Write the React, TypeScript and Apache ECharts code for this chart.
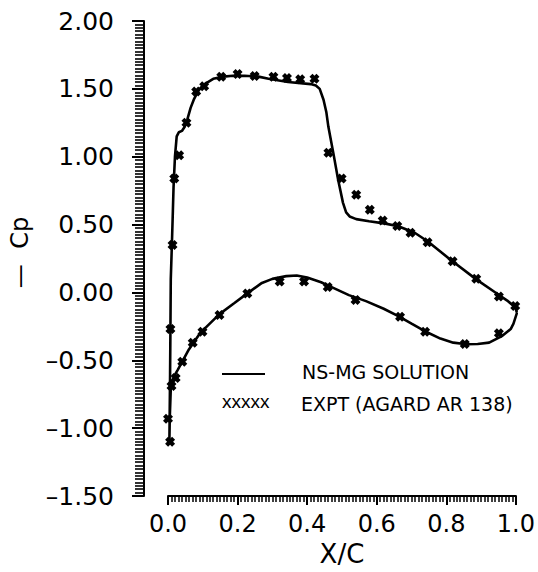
import React, { useEffect, useRef } from "react";
import * as echarts from "echarts";

// NS-MG solution, upper surface (leading edge -> trailing edge)
const solUpperX = [0.004, 0.006, 0.007, 0.008, 0.011, 0.014, 0.016, 0.020, 0.025, 0.031, 0.040, 0.048, 0.055, 0.065, 0.074, 0.088, 0.102, 0.130, 0.160, 0.186, 0.220, 0.260, 0.289, 0.345, 0.410, 0.425, 0.436, 0.447, 0.455, 0.461, 0.475, 0.489, 0.503, 0.512, 0.522, 0.541, 0.578, 0.625, 0.662, 0.709, 0.746, 0.811, 0.886, 0.942, 0.975, 0.998, 1.003];
const solUpperCp = [-1.10, -0.60, -0.27, 0.10, 0.34, 0.60, 0.78, 1.00, 1.15, 1.18, 1.19, 1.22, 1.27, 1.36, 1.42, 1.49, 1.53, 1.574, 1.59, 1.596, 1.597, 1.59, 1.575, 1.55, 1.535, 1.525, 1.50, 1.42, 1.33, 1.22, 1.03, 0.83, 0.66, 0.59, 0.56, 0.54, 0.525, 0.507, 0.488, 0.44, 0.377, 0.243, 0.096, -0.002, -0.06, -0.11, -0.15];

// NS-MG solution, lower surface (leading edge -> trailing edge)
const solLowerX = [0.004, 0.005, 0.008, 0.012, 0.018, 0.028, 0.041, 0.060, 0.092, 0.120, 0.148, 0.190, 0.228, 0.270, 0.300, 0.340, 0.370, 0.400, 0.440, 0.475, 0.520, 0.569, 0.620, 0.662, 0.700, 0.737, 0.783, 0.820, 0.858, 0.890, 0.923, 0.961, 0.985, 0.993, 1.003];
const solLowerCp = [-1.105, -0.93, -0.71, -0.66, -0.615, -0.57, -0.51, -0.42, -0.30, -0.23, -0.16, -0.08, -0.007, 0.07, 0.10, 0.12, 0.125, 0.11, 0.075, 0.034, -0.02, -0.064, -0.12, -0.174, -0.23, -0.284, -0.34, -0.37, -0.382, -0.38, -0.37, -0.32, -0.27, -0.23, -0.15];

// Experiment (AGARD AR 138), upper surface
const expUpperX = [0.007, 0.013, 0.018, 0.032, 0.053, 0.081, 0.104, 0.153, 0.200, 0.249, 0.303, 0.342, 0.380, 0.421, 0.461, 0.499, 0.541, 0.580, 0.617, 0.659, 0.697, 0.746, 0.818, 0.886, 0.951, 0.998];
const expUpperCp = [-0.27, 0.35, 0.84, 1.01, 1.25, 1.48, 1.52, 1.59, 1.61, 1.595, 1.59, 1.58, 1.57, 1.575, 1.03, 0.84, 0.72, 0.61, 0.53, 0.49, 0.44, 0.37, 0.23, 0.10, -0.03, -0.10];

// Experiment (AGARD AR 138), lower surface
const expLowerX = [0.000, 0.006, 0.010, 0.022, 0.041, 0.071, 0.099, 0.148, 0.228, 0.321, 0.391, 0.459, 0.539, 0.667, 0.739, 0.853, 0.951];
const expLowerCp = [-0.93, -1.10, -0.69, -0.63, -0.51, -0.37, -0.29, -0.167, -0.007, 0.08, 0.08, 0.04, -0.056, -0.18, -0.29, -0.38, -0.30];

const xTicks = [0, 0.2, 0.4, 0.6, 0.8, 1.0];
const yTicks = [-1.5, -1.0, -0.5, 0, 0.5, 1.0, 1.5, 2.0];

const legendLabels = ["NS-MG SOLUTION", "EXPT (AGARD AR 138)"];

const FONT = "DejaVu Sans";
const X_MARK = "path://M0,3L3,0L5,2L7,0L10,3L8,5L10,7L7,10L5,8L3,10L0,7L2,5Z";

function fmtY(v: number) {
  const s = Math.abs(v).toFixed(2);
  return v < 0 ? "\u2013" + s : s;
}

export default function App() {
  const ref = useRef<HTMLDivElement>(null);
  useEffect(() => {
    if (!ref.current) return;
    const chart = echarts.init(ref.current, undefined, { renderer: "svg" });

    const loop: number[][] = [];
    for (let i = solUpperX.length - 1; i >= 0; i--) loop.push([solUpperX[i], solUpperCp[i]]);
    for (let i = 0; i < solLowerX.length; i++) loop.push([solLowerX[i], solLowerCp[i]]);

    const expt: number[][] = [];
    expUpperX.forEach((x, i) => expt.push([x, expUpperCp[i]]));
    expLowerX.forEach((x, i) => expt.push([x, expLowerCp[i]]));

    chart.setOption({
      animation: false,
      backgroundColor: "#fff",
      grid: { left: 167, right: 14, top: 21, bottom: 75 },
      xAxis: {
        type: "value",
        min: xTicks[0],
        max: xTicks[xTicks.length - 1],
        interval: 0.2,
        name: "X/C",
        nameLocation: "middle",
        nameGap: 45,
        nameTextStyle: { fontFamily: FONT, fontSize: 26, color: "#000" },
        axisLine: { onZero: false, lineStyle: { color: "#000", width: 2 } },
        axisTick: { length: 9, lineStyle: { color: "#000", width: 2 } },
        minorTick: { show: true, splitNumber: 20, length: 6, lineStyle: { color: "#000", width: 1.5 } },
        axisLabel: { margin: 16, fontFamily: FONT, fontSize: 24, color: "#000", formatter: (v: number) => v.toFixed(1) },
        splitLine: { show: false },
      },
      yAxis: {
        type: "value",
        min: yTicks[0],
        max: yTicks[yTicks.length - 1],
        interval: 0.5,
        offset: 24,
        name: "\u2014  Cp",
        nameLocation: "middle",
        nameRotate: 90,
        nameGap: 112,
        nameTextStyle: { fontFamily: FONT, fontSize: 24, color: "#000", padding: [0, 0, 0, 12] },
        axisLine: { onZero: false, lineStyle: { color: "#000", width: 2 } },
        axisTick: { length: 12, lineStyle: { color: "#000", width: 2 } },
        minorTick: { show: true, splitNumber: 20, length: 9, lineStyle: { color: "#000", width: 1.6 } },
        axisLabel: { margin: 30, fontFamily: FONT, fontSize: 25, color: "#000", formatter: fmtY },
        splitLine: { show: false },
      },
      series: [
        {
          name: legendLabels[0],
          type: "line",
          data: loop,
          showSymbol: false,
          symbol: "none",
          lineStyle: { color: "#000", width: 2.6 },
          z: 2,
        },
        {
          name: legendLabels[1],
          type: "scatter",
          data: expt,
          symbol: X_MARK,
          symbolSize: 10,
          itemStyle: { color: "#000", opacity: 1 },
          z: 3,
        },
      ],
      graphic: [
        { type: "line", shape: { x1: 222, y1: 374, x2: 265, y2: 374 }, style: { stroke: "#000", lineWidth: 2 } },
        { type: "text", x: 302, y: 372, style: { text: legendLabels[0], fontFamily: FONT, fontSize: 19, fill: "#000", verticalAlign: "middle" } },
        { type: "text", x: 222, y: 401, style: { text: "xxxxx", fontFamily: "Liberation Sans", fontSize: 19, fill: "#000", verticalAlign: "middle" } },
        { type: "text", x: 301, y: 404, style: { text: legendLabels[1], fontFamily: FONT, fontSize: 19, fill: "#000", verticalAlign: "middle" } },
      ],
    });
    return () => chart.dispose();
  }, []);
  return <div ref={ref} style={{ position: "absolute", left: 0, top: 0, width: 538, height: 572 }} />;
}
